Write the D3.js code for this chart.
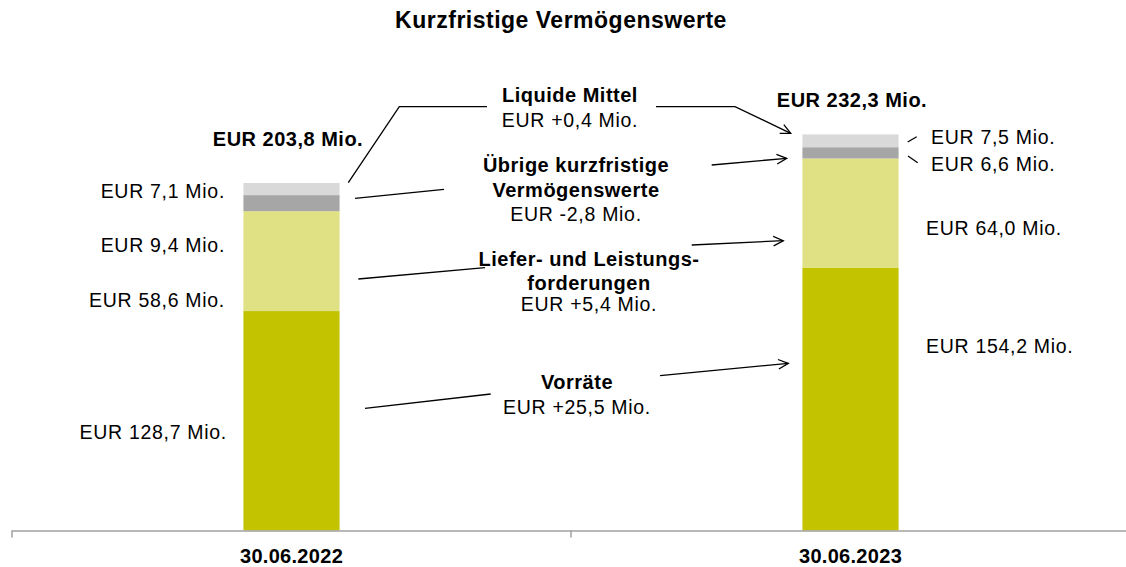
<!DOCTYPE html>
<html>
<head>
<meta charset="utf-8">
<script src="https://cdn.jsdelivr.net/npm/d3@7"></script>
<style>
  html, body { margin: 0; padding: 0; background: #fff; }
  svg { display: block; font-family: "Liberation Sans", Arial, sans-serif; }
</style>
</head>
<body>
<svg id="chart" width="1126" height="567"></svg>
<script>
// ---------- data ----------
const title = "Kurzfristige Vermögenswerte";
const categories = ["30.06.2022", "30.06.2023"];
const seriesKeys = ["vorraete", "liefer", "uebrige", "liquide"];
const seriesNames = [["Vorräte"], ["Liefer- und Leistungs-", "forderungen"], ["Übrige kurzfristige", "Vermögenswerte"], ["Liquide Mittel"]];
const vorraete = [128.7, 154.2];
const liefer = [58.6, 64.0];
const uebrige = [9.4, 6.6];
const liquide = [7.1, 7.5];
const totals = [203.8, 232.3];

// ---------- styles / layout ----------
const colors = { vorraete: "#c3c300", liefer: "#e0e084", uebrige: "#a6a6a6", liquide: "#d9d9d9" };
const W = 1126, H = 567;
const svg = d3.select("#chart");

const fmt = v => d3.format(".1f")(v).replace(".", ",").replace("\u2212", "-");
const fmtSigned = v => (v >= 0 ? "+" : "") + fmt(v);

const table = categories.map((c, i) => ({
  cat: c, vorraete: vorraete[i], liefer: liefer[i], uebrige: uebrige[i], liquide: liquide[i]
}));
const stacked = d3.stack().keys(seriesKeys)(table);

const x = d3.scaleBand().domain(categories).range([12, 1130]).paddingInner(0.828).paddingOuter(0.414);
const y = d3.scaleLinear().domain([0, 250]).range([530.5, 530.5 - 250 * 1.705]);

// bars
svg.append("g").selectAll("g").data(stacked).join("g")
  .attr("fill", d => colors[d.key])
  .selectAll("rect").data(d => d).join("rect")
  .attr("x", d => x(d.data.cat))
  .attr("width", x.bandwidth())
  .attr("y", d => y(d[1]))
  .attr("height", d => y(d[0]) - y(d[1]));

// axis
const axisColor = "#a0a0a0";
const base = y(0);
svg.append("line").attr("x1", 12).attr("x2", W).attr("y1", base + 0.5).attr("y2", base + 0.5)
  .attr("stroke", axisColor).attr("stroke-width", 1.5);
const bounds = [x.range()[0], x.range()[0] + x.step(), x.range()[0] + 2 * x.step()];
svg.append("g").selectAll("line").data(bounds).join("line")
  .attr("x1", d => d).attr("x2", d => d).attr("y1", base).attr("y2", base + 7)
  .attr("stroke", axisColor).attr("stroke-width", 1.5);
const xAxis = d3.axisBottom(x).tickSize(0).tickPadding(0);
const gx = svg.append("g").attr("transform", `translate(0,${base})`).call(xAxis);
gx.select(".domain").remove();
gx.selectAll("text").attr("font-size", 20).attr("font-weight", "bold").attr("fill", "#000")
  .attr("letter-spacing", 0.3).attr("font-family", "Liberation Sans, Arial, sans-serif")
  .attr("dy", null).attr("y", 32.5);

// title
svg.append("text").attr("x", 561).attr("y", 28).attr("text-anchor", "middle")
  .attr("font-size", 23).attr("font-weight", "bold").attr("letter-spacing", 0.5).text(title);

const T = (xx, yy, txt, opts = {}) => svg.append("text").attr("x", xx).attr("y", yy)
  .attr("text-anchor", opts.anchor || "start")
  .attr("font-size", opts.bold ? 20 : 19.5).attr("font-weight", opts.bold ? "bold" : "normal")
  .attr("letter-spacing", opts.bold ? 0.5 : 0.7).attr("fill", "#000").text(txt);

// totals
const totalPos = [[288, 146], [852, 107]];
totals.forEach((t, i) => T(totalPos[i][0], totalPos[i][1], `EUR ${fmt(t)} Mio.`, { bold: true, anchor: "middle" }));

// left value labels (2022), top to bottom: liquide, uebrige, liefer, vorraete
const leftVals = [liquide[0], uebrige[0], liefer[0], vorraete[0]];
const leftPos = [[225, 198], [225, 252], [225, 307], [227, 439]];
leftVals.forEach((v, i) => T(leftPos[i][0], leftPos[i][1], `EUR ${fmt(v)} Mio.`, { anchor: "end" }));

// right value labels (2023)
const rightVals = [liquide[1], uebrige[1], liefer[1], vorraete[1]];
const rightPos = [[931, 144], [931, 171], [926, 235], [926, 353]];
rightVals.forEach((v, i) => T(rightPos[i][0], rightPos[i][1], `EUR ${fmt(v)} Mio.`));

// central annotations (change)
const seriesArr = [vorraete, liefer, uebrige, liquide];
const changes = seriesArr.map(s => s[1] - s[0]);
const annoPos = [
  { cx: 577, ys: [389, 414] },          // vorraete
  { cx: 589, ys: [266, 290, 311] },     // liefer
  { cx: 576, ys: [172, 197, 221] },     // uebrige
  { cx: 570, ys: [102, 127] }           // liquide
];
seriesNames.forEach((names, j) => {
  const p = annoPos[j];
  names.forEach((n, k) => T(p.cx, p.ys[k], n, { bold: true, anchor: "middle" }));
  T(p.cx, p.ys[names.length], `EUR ${fmtSigned(changes[j])} Mio.`, { anchor: "middle" });
});

// connectors
const lineGen = d3.line();
const connectors = [
  { pts: [[348.3, 182.7], [399.3, 106.7], [487, 106.7]], arrow: false },
  { pts: [[656, 106.7], [735, 106.7], [790.7, 133.3]], arrow: true },
  { pts: [[355, 198.3], [444, 189.3]], arrow: false },
  { pts: [[711.7, 165], [786.7, 158.3]], arrow: true },
  { pts: [[358.3, 279], [485, 267.7]], arrow: false },
  { pts: [[691.7, 245], [783.3, 240.7]], arrow: true },
  { pts: [[365, 408.3], [490.7, 394]], arrow: false },
  { pts: [[660, 375.7], [788.3, 363.3]], arrow: true },
  { pts: [[907.7, 142], [916.7, 136.7]], arrow: false },
  { pts: [[908, 156], [917.7, 162.7]], arrow: false }
];
const cg = svg.append("g").attr("fill", "none").attr("stroke", "#000").attr("stroke-width", 1.3);
connectors.forEach(c => {
  cg.append("path").attr("d", lineGen(c.pts));
  if (c.arrow) {
    const [a, b] = c.pts.slice(-2);
    const ang = Math.atan2(b[1] - a[1], b[0] - a[0]);
    const L = 11, s = 0.45;
    const p1 = [b[0] - L * Math.cos(ang - s), b[1] - L * Math.sin(ang - s)];
    const p2 = [b[0] - L * Math.cos(ang + s), b[1] - L * Math.sin(ang + s)];
    cg.append("path").attr("d", lineGen([p1, b, p2]));
  }
});
</script>
</body>
</html>
